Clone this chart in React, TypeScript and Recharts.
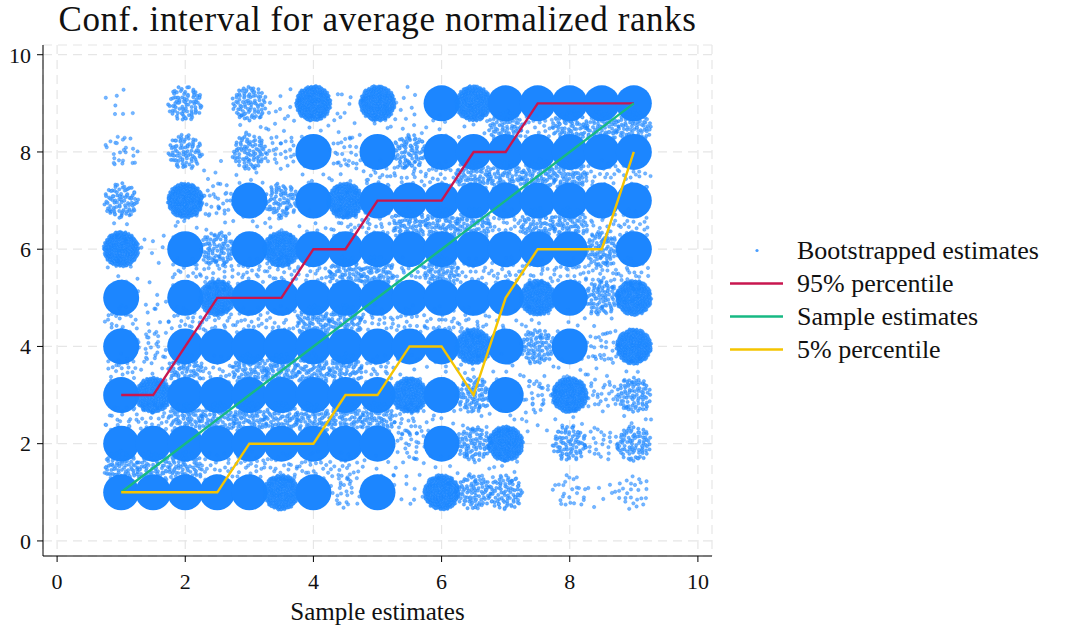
import React from 'react';
import { ComposedChart, Scatter, XAxis, YAxis, CartesianGrid, Legend, Label } from 'recharts';

// ---------- data ----------
const xValues = [1, 1.5, 2, 2.5, 3, 3.5, 4, 4.5, 5, 5.5, 6, 6.5, 7, 7.5, 8, 8.5, 9];
const yValues = [9, 8.5, 8, 7.5, 7, 6.5, 6, 5.5, 5, 4.5, 4, 3.5, 3, 2.5, 2, 1.5, 1];
// density level (0 none .. 5 solid) of bootstrapped estimates, rows follow yValues, cols follow xValues
const density: number[][] = [
  [1, 0, 3, 0, 3, 1, 4, 1, 4, 1, 5, 4, 5, 5, 5, 5, 5], // 9
  [0, 0, 0, 0, 1, 1, 1, 1, 1, 1, 1, 1, 3, 2, 3, 3, 3], // 8.5
  [2, 0, 3, 0, 3, 2, 5, 2, 5, 3, 5, 5, 5, 5, 5, 5, 5], // 8
  [0, 0, 0, 1, 1, 0, 1, 1, 2, 2, 2, 3, 3, 3, 3, 2, 2], // 7.5
  [3, 0, 4, 2, 5, 3, 5, 4, 5, 5, 5, 5, 5, 5, 5, 5, 5], // 7
  [1, 0, 1, 1, 1, 1, 1, 2, 2, 3, 3, 3, 2, 3, 3, 2, 2], // 6.5
  [4, 1, 5, 3, 5, 4, 5, 5, 5, 5, 5, 5, 5, 5, 5, 3, 5], // 6
  [1, 0, 2, 2, 2, 2, 2, 3, 3, 2, 3, 2, 2, 2, 2, 2, 2], // 5.5
  [5, 1, 5, 4, 5, 5, 5, 5, 5, 5, 5, 5, 5, 4, 5, 3, 4], // 5
  [2, 1, 2, 2, 2, 2, 3, 3, 2, 2, 2, 2, 1, 1, 1, 1, 0], // 4.5
  [5, 2, 5, 5, 5, 5, 5, 5, 5, 5, 5, 4, 5, 3, 5, 2, 4], // 4
  [2, 1, 3, 2, 3, 3, 3, 3, 2, 1, 1, 1, 1, 1, 1, 1, 1], // 3.5
  [5, 4, 5, 5, 5, 5, 5, 5, 5, 4, 5, 3, 5, 2, 4, 2, 3], // 3
  [2, 2, 3, 3, 3, 3, 3, 3, 3, 2, 1, 1, 1, 1, 1, 0, 1], // 2.5
  [5, 5, 5, 5, 5, 5, 5, 5, 5, 2, 5, 3, 4, 0, 3, 2, 3], // 2
  [3, 3, 3, 2, 2, 2, 2, 2, 1, 1, 1, 1, 1, 0, 0, 0, 0], // 1.5
  [5, 5, 5, 5, 5, 4, 5, 2, 5, 1, 4, 3, 3, 0, 2, 1, 2], // 1
];
const sampleEstimates = [1, 1.5, 2, 2.5, 3, 3.5, 4, 4.5, 5, 5.5, 6, 6.5, 7, 7.5, 8, 8.5, 9];
const percentile95 = [3, 3, 4, 5, 5, 5, 6, 6, 7, 7, 7, 8, 8, 9, 9, 9, 9];
const percentile5 = [1, 1, 1, 1, 2, 2, 2, 3, 3, 4, 4, 3, 5, 6, 6, 6, 8];
const xTicks = [0, 2, 4, 6, 8, 10];
const yTicks = [0, 2, 4, 6, 8, 10];
const seriesNames = ['Bootstrapped estimates', '95% percentile', 'Sample estimates', '5% percentile'];
const titleText = 'Conf. interval for average normalized ranks';
const xLabelText = 'Sample estimates';

// ---------- styles ----------
const FONT = '"Liberation Serif", "Times New Roman", serif';
const BLUE = '#1c86ff';
const RED = '#c8164f';
const GREEN = '#17b983';
const YELLOW = '#f5c400';
const DOT_COUNTS = [0, 7, 25, 85, 340];
const DOT_OPACITY = [0, 0.6, 0.6, 0.68, 0.8];

const scatterData: { x: number; y: number; level: number; seed: number }[] = [];
yValues.forEach((yv, ri) => {
  xValues.forEach((xv, ci) => {
    const level = density[ri][ci];
    if (level > 0) scatterData.push({ x: xv, y: yv, level, seed: ri * 317 + ci * 61 + 1 });
  });
});

const toLine = (vals: number[]) => xValues.map((x, i) => ({ x, y: vals[i] }));
const p95Data = toLine(percentile95);
const estData = toLine(sampleEstimates);
const p5Data = toLine(percentile5);

// Halton low-discrepancy sequence: deterministic texture for the marker cloud
function halton(index: number, base: number) {
  let f = 1;
  let r = 0;
  let i = index;
  while (i > 0) {
    f /= base;
    r += f * (i % base);
    i = Math.floor(i / base);
  }
  return r;
}

function Cluster(props: any) {
  const { cx, cy, payload } = props;
  if (cx == null || cy == null || !payload) return null;
  const level = payload.level;
  if (level >= 5) return <circle cx={cx} cy={cy} r={18} fill={BLUE} />;
  const n = DOT_COUNTS[level];
  const r = 1.7;
  let d = '';
  for (let i = 0; i < n; i++) {
    const k = i + payload.seed;
    const u = halton(k, 2);
    const v = halton(k, 3);
    const rr = 17.5 * Math.sqrt(u);
    const th = 2 * Math.PI * v;
    const px = cx + rr * Math.cos(th);
    const py = cy + rr * Math.sin(th);
    d += `M${(px - r).toFixed(2)},${py.toFixed(2)}a${r},${r} 0 1,0 ${2 * r},0a${r},${r} 0 1,0 ${-2 * r},0`;
  }
  return (
    <path
      d={d}
      fill={BLUE}
      fillOpacity={DOT_OPACITY[level]}
      stroke={BLUE}
      strokeOpacity={0.75}
      strokeWidth={0.5}
    />
  );
}

const NoDot = () => <g />;

const legendColors = [BLUE, RED, GREEN, YELLOW];

function LegendContent() {
  return (
    <div style={{ fontFamily: FONT, fontSize: 26, color: '#111' }}>
      {seriesNames.map((name, i) => (
        <div key={name} style={{ display: 'flex', alignItems: 'center', height: 33 }}>
          <svg width={69} height={33} style={{ display: 'block' }}>
            {i === 0 ? (
              <circle cx={29} cy={16.5} r={1.6} fill={BLUE} fillOpacity={0.8} />
            ) : (
              <line x1={2} x2={55} y1={16.5} y2={16.5} stroke={legendColors[i]} strokeWidth={2.5} />
            )}
          </svg>
          <span style={{ whiteSpace: 'nowrap', lineHeight: '33px' }}>{name}</span>
        </div>
      ))}
    </div>
  );
}

export default function App() {
  return (
    <div style={{ position: 'absolute', left: 0, top: 0, width: 1073, height: 629, background: '#fff' }}>
      <div
        style={{
          position: 'absolute',
          left: 0,
          top: 0,
          width: 755,
          textAlign: 'center',
          fontFamily: FONT,
          fontSize: 35,
          letterSpacing: 0.6,
          lineHeight: '40px',
          color: '#111',
          whiteSpace: 'nowrap',
        }}
      >
        {titleText}
      </div>
      <ComposedChart width={1073} height={629} margin={{ top: 45, right: 361, bottom: 0, left: 0 }}>
        <CartesianGrid stroke="#e6e6e6" strokeDasharray="9 6" strokeWidth={1.2} />
        <XAxis
          type="number"
          dataKey="x"
          domain={[-0.22, 10.22]}
          ticks={xTicks}
          allowDataOverflow
          height={73}
          tickSize={6}
          tickMargin={11}
          stroke="#000"
          tick={{ fontSize: 22, fill: '#111', fontFamily: FONT }}
        >
          <Label value={xLabelText} position="insideBottom" offset={9} style={{ fontSize: 25, fill: '#111', fontFamily: FONT }} />
        </XAxis>
        <YAxis
          type="number"
          dataKey="y"
          domain={[-0.31, 10.2]}
          ticks={yTicks}
          allowDataOverflow
          width={43}
          tickSize={6}
          tickMargin={6}
          stroke="#000"
          tick={{ fontSize: 22, fill: '#111', fontFamily: FONT }}
        />
        <Scatter data={scatterData} dataKey="y" shape={Cluster} isAnimationActive={false} name={seriesNames[0]} />
        <Scatter data={p95Data} dataKey="y" shape={NoDot} line={{ stroke: RED, strokeWidth: 2.4 }} lineType="joint" isAnimationActive={false} name={seriesNames[1]} />
        <Scatter data={estData} dataKey="y" shape={NoDot} line={{ stroke: GREEN, strokeWidth: 2.4 }} lineType="joint" isAnimationActive={false} name={seriesNames[2]} />
        <Scatter data={p5Data} dataKey="y" shape={NoDot} line={{ stroke: YELLOW, strokeWidth: 2.4 }} lineType="joint" isAnimationActive={false} name={seriesNames[3]} />
        <Legend
          layout="horizontal"
          align="center"
          verticalAlign="middle"
          content={LegendContent}
          wrapperStyle={{ position: 'absolute', left: 728, top: 234, width: 345 }}
        />
      </ComposedChart>
    </div>
  );
}
